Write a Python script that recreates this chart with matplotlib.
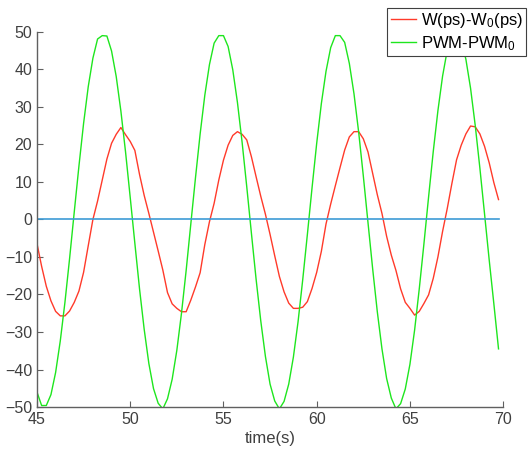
import numpy as np
import matplotlib
matplotlib.use("Agg")
from matplotlib import pyplot as plt

plt.rcParams['font.family'] = ['Liberation Sans', 'DejaVu Sans']
plt.rcParams['mathtext.default'] = 'regular'

# sample times (s)
time = np.arange(45.0, 69.76, 0.25)

# W(ps)-W0(ps)
w_diff = [
    -6.4, -12.5, -17.8, -21.7, -24.5, -25.7, -25.7, -24.4, -22.1, -19.1,
    -14.1, -7.0, 0.0, 4.9, 10.5, 16.1, 20.3, 22.7, 24.5, 22.6,
    20.8, 18.4, 12.0, 6.4, 1.6, -3.4, -8.4, -13.5, -19.5, -22.5,
    -23.7, -24.6, -24.6, -21.5, -18.0, -14.2, -6.7, -0.6, 4.3, 10.5,
    15.8, 19.8, 22.4, 23.4, 22.7, 21.2, 16.7, 11.4, 6.2, 1.4,
    -4.0, -9.7, -15.2, -19.3, -22.3, -23.7, -23.7, -23.4, -21.9, -18.4,
    -14.1, -8.5, -1.2, 4.1, 9.0, 13.8, 18.5, 22.0, 23.4, 23.4,
    21.5, 18.0, 12.3, 6.6, 1.6, -4.5, -9.5, -13.6, -18.5, -22.1,
    -23.7, -25.5, -24.5, -22.4, -20.1, -15.7, -10.0, -3.2, 2.9, 9.6,
    15.9, 19.8, 22.8, 24.9, 24.7, 22.8, 19.5, 15.1, 9.8, 5.3,
]

# PWM-PWM0
pwm_diff = [
    -46.0, -49.6, -49.6, -46.7, -40.8, -32.4, -22.1, -10.4, 2.0, 14.2,
    25.6, 35.4, 43.0, 48.1, 49.0, 48.9, 44.9, 38.1, 28.9, 18.0,
    5.9, -6.4, -18.5, -29.3, -38.4, -45.1, -49.0, -50.5, -47.8, -42.6,
    -34.9, -25.0, -13.6, -1.2, 11.1, 22.8, 33.1, 41.3, 47.0, 49.0,
    49.0, 46.1, 39.9, 31.2, 20.6, 8.7, -3.7, -15.9, -27.0, -36.5,
    -43.9, -48.4, -50.5, -48.5, -43.9, -36.7, -27.3, -16.1, -4.0, 8.4,
    20.3, 30.9, 39.5, 45.8, 49.0, 49.0, 47.2, 41.6, 33.5, 23.3,
    11.6, -0.8, -13.1, -24.6, -34.5, -42.4, -47.6, -50.5, -49.1, -45.2,
    -38.6, -29.5, -18.5, -6.5, 6.0, 18.1, 29.0, 38.2, 45.1, 49.0,
    49.0, 47.8, 42.7, 35.0, 25.1, 13.7, 1.5, -10.8, -22.5, -34.5,
]

baseline = [0.0] * len(time)

fig = plt.figure(figsize=(5.28, 4.49), dpi=100)
ax = fig.add_axes([0.070, 0.0935, 0.883, 0.8355])

ax.plot(time, w_diff, color='#ff3a2a', lw=1.0, label='W(ps)-W$_0$(ps)')
ax.plot(time, pwm_diff, color='#1ee61e', lw=1.0, label='PWM-PWM$_0$')
ax.plot(time, baseline, color='#3d9bd6', lw=1.2)

ax.set_xlim(45, 70)
ax.set_ylim(-50, 50)
ax.set_xticks([45, 50, 55, 60, 65, 70])
ax.set_yticks(np.arange(-50, 51, 10))
ax.set_xlabel('time(s)', fontsize=12, color='#404040', labelpad=3)

for side in ['top', 'right']:
    ax.spines[side].set_visible(False)
for side in ['left', 'bottom']:
    ax.spines[side].set_color('#606060')
    ax.spines[side].set_linewidth(1.0)
ax.tick_params(direction='in', length=4, width=0.8, color='#606060',
               labelcolor='#404040', labelsize=11.5)

leg = ax.legend(loc='upper right', bbox_to_anchor=(0.997, 0.983),
                bbox_transform=fig.transFigure, fontsize=12,
                fancybox=False, framealpha=1, edgecolor='#404040',
                handlelength=1.5, handletextpad=0.3, borderpad=0.2,
                labelspacing=0.25, borderaxespad=0)
leg.get_frame().set_linewidth(0.8)

fig.savefig('out.png', dpi=100)
